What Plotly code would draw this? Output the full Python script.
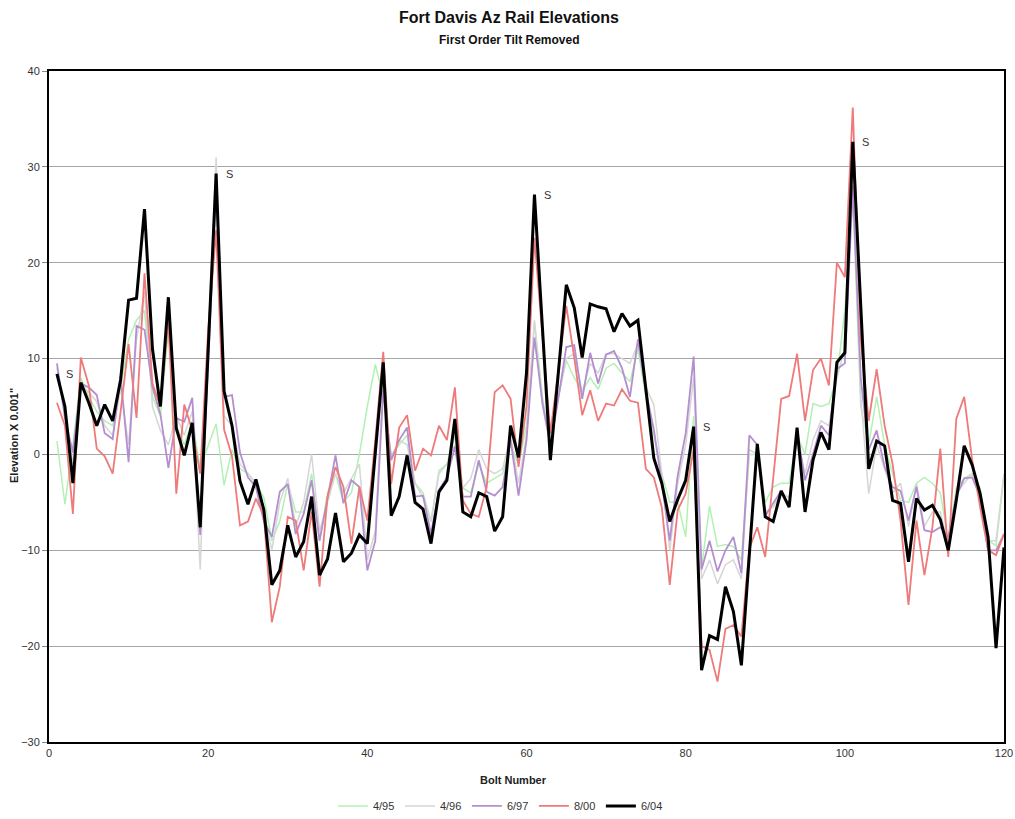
import plotly.graph_objects as go

bolts = list(range(1, 121))

s_0604 = [8.4, 5.0, -3.0, 7.5, 5.4, 3.0, 5.2, 3.5, 7.8, 16.1,
          16.3, 25.6, 11.0, 5.0, 16.4, 2.7, -0.1, 3.3, -7.6, 10.8,
          29.3, 6.6, 3.0, -2.8, -5.2, -2.6, -5.8, -13.6, -12.1, -7.4,
          -10.7, -9.1, -4.4, -12.6, -10.9, -6.1, -11.2, -10.3, -8.4, -9.3,
          0.2, 9.6, -6.4, -4.4, -0.1, -5.0, -5.7, -9.3, -3.9, -2.7,
          3.7, -6.0, -6.5, -4.0, -4.4, -8.0, -6.5, 3.0, -0.3, 8.5,
          27.1, 13.0, -0.6, 8.5, 17.7, 15.3, 10.1, 15.7, 15.4, 15.2,
          12.8, 14.7, 13.4, 14.0, 6.7, -0.4, -3.0, -7.0, -4.7, -2.7,
          2.9, -22.5, -18.9, -19.3, -13.8, -16.4, -22.0, -10.4, 1.1, -6.5,
          -7.0, -3.8, -5.5, 2.8, -6.0, -0.6, 2.3, 0.5, 9.6, 10.6,
          32.6, 15.5, -1.5, 1.4, 0.9, -4.8, -5.1, -11.2, -4.6, -5.8,
          -5.3, -6.8, -10.0, -4.8, 0.9, -1.1, -4.1, -8.6, -20.2, -9.7]

s_0800 = [5.4, 3.0, -6.2, 10.1, 7.2, 0.6, -0.2, -2.0, 4.5, 11.5,
          3.8, 18.9, 7.4, 5.0, 14.0, -4.1, 5.2, 2.5, -2.0, 13.0,
          23.4, 2.6, -0.2, -7.4, -7.0, -4.6, -6.4, -17.5, -13.8, -6.5,
          -6.9, -12.1, -6.0, -13.8, -4.4, -1.3, -3.4, -9.3, -3.4, -6.9,
          1.5, 10.7, -3.1, 2.8, 4.1, -1.7, 0.6, -0.1, 3.0, 1.5,
          7.0, -4.8, -6.2, -6.5, -3.4, 6.5, 7.2, 5.8, -1.3, 5.0,
          22.6, 12.0, 2.2, 8.8, 15.5, 10.1, 4.1, 6.7, 3.5, 5.3,
          5.1, 6.8, 5.6, 5.4, -1.5, -2.4, -5.5, -13.6, -5.8, -4.1,
          0.5, -20.0, -20.4, -23.7, -18.2, -17.8, -19.0, -9.8, -7.6, -10.7,
          -2.5, 5.8, 6.1, 10.5, 3.5, 8.8, 10.0, 7.2, 20.0, 18.5,
          36.2, 12.0, 3.5, 8.9, 3.0, -1.0, -6.9, -15.7, -6.9, -12.6,
          -7.6, 0.6, -10.7, 3.7, 6.0, -0.6, -5.5, -10.0, -10.5, -8.3]

s_0697 = [9.5, 3.8, 0.2, 7.4, 7.0, 6.2, 2.2, 1.6, 8.2, -0.8,
          13.4, 13.0, 7.0, 4.2, -1.4, 3.8, 3.4, 5.9, -8.4, 10.0,
          27.8, 6.0, 6.2, 0.2, -2.4, -3.4, -7.0, -8.6, -3.9, -3.1,
          -8.3, -6.2, -2.7, -9.0, -4.4, -0.1, -5.1, -2.7, -3.4, -12.1,
          -9.0, 6.7, -0.6, 1.5, 2.8, -4.4, -4.3, -8.3, -3.7, -2.4,
          0.8, -4.4, -4.4, -0.6, -3.9, -4.3, -3.4, 1.5, -4.3, 1.5,
          12.2, 5.4, 1.0, 5.8, 11.2, 11.4, 5.8, 10.6, 7.4, 10.4,
          10.8, 9.0, 6.0, 12.0, 6.6, 2.6, -3.0, -9.0, -2.2, 2.2,
          10.2, -12.0, -9.0, -12.2, -10.0, -8.6, -12.4, 2.0, 1.0, -6.4,
          -5.1, -3.8, -5.5, 2.5, -2.7, 0.0, 3.0, 2.0, 8.9, 9.5,
          28.0, 8.0, 0.5, 2.5, -1.3, -3.4, -3.8, -6.9, -3.4, -7.9,
          -8.1, -7.6, -8.6, -4.4, -2.5, -2.4, -4.4, -10.0, -10.0, -8.3]

s_0496 = [9.0, 4.5, -1.0, 7.0, 6.5, 5.5, 3.0, 2.0, 7.0, 1.0,
          12.0, 17.0, 5.0, 2.5, 1.0, 4.0, 2.0, 4.5, -12.0, 12.0,
          31.0, 4.0, 3.0, -1.0, -2.0, -3.0, -6.0, -10.0, -5.0, -2.5,
          -7.5, -5.0, 0.0, -8.0, -5.0, -2.0, -4.0, -2.5, -1.0, -11.0,
          -8.0, 8.0, -0.5, 1.5, 1.0, -3.0, -4.5, -7.0, -2.0, -1.0,
          1.0, -3.5, -2.5, 0.5, -1.5, -2.0, -1.5, 2.0, -3.0, 2.0,
          14.0, 5.0, 1.0, 6.0, 10.0, 10.5, 6.5, 9.5, 8.5, 10.5,
          10.5, 10.0, 9.5, 11.5, 7.0, 5.2, -2.0, -10.0, -3.0, 1.0,
          8.0, -13.0, -11.0, -13.5, -11.5, -11.0, -13.0, 0.5, 0.0, -6.0,
          -5.5, -4.0, -4.5, 1.5, -2.0, 1.5, 3.5, 3.0, 8.0, 11.0,
          30.0, 6.0, -4.1, 1.0, -1.5, -4.0, -3.0, -7.5, -3.0, -7.5,
          -6.0, -6.0, -9.5, -4.0, -3.0, -2.0, -4.0, -9.0, -9.0, -2.0]

s_0495 = [1.4, -5.2, 1.0, 8.0, 6.0, 4.5, 3.5, 3.0, 7.0, 12.0,
          14.0, 15.0, 6.0, 4.0, 13.0, 3.0, 1.0, 3.5, -1.4, 1.0,
          3.2, -3.2, 0.5, -1.5, -2.0, -3.0, -4.5, -9.0, -7.0, -3.0,
          -6.0, -6.0, -2.0, -9.0, -4.0, -2.0, -5.0, -4.0, 0.0, 5.0,
          9.4, 6.0, 0.0, 1.0, 2.0, -3.0, -4.0, -7.0, -1.7, -1.0,
          2.0, -3.5, -4.0, -1.0, -3.0, -2.5, -2.0, 1.0, -1.0, 3.0,
          13.8, 6.0, 1.0, 6.0, 9.8, 8.0, 6.6, 8.0, 6.8, 9.0,
          9.5, 8.5, 7.6, 11.0, 6.0, 2.0, -2.0, -5.0, -5.0, -8.6,
          4.0, -11.8, -5.4, -9.6, -9.4, -9.6, -11.0, 0.0, 0.0, -5.0,
          -3.4, -3.0, -3.0, 2.0, 0.0, 5.3, 5.0, 5.3, 8.0, 15.0,
          27.0, 5.0, 1.0, 6.0, 1.0, -2.0, -4.8, -5.0, -3.0, -2.4,
          -3.0, -4.0, -9.0, -3.5, -2.5, -2.0, -3.5, -9.0, -9.5, -2.2]

series_names = ["4/95", "4/96", "6/97", "8/00", "6/04"]
series_data = [s_0495, s_0496, s_0697, s_0800, s_0604]
series_colors = ["#b3f0b3", "#d6d6d6", "#b48fd0", "#ee7a7a", "#000000"]
series_widths = [1.5, 1.5, 1.8, 1.8, 3]

s_marks = [1, 21, 61, 81, 101]

FONT = "Liberation Sans, Arial, sans-serif"
font_main = dict(family=FONT, size=11, color="#333333")

fig = go.Figure()
for name, data, color, w in zip(series_names, series_data, series_colors, series_widths):
    fig.add_trace(go.Scatter(x=bolts, y=data, mode="lines", name=name,
                             line=dict(color=color, width=w)))

annotations = [
    dict(x=0.482, y=1.079, xref="paper", yref="paper", yanchor="middle",
         text="<b>Fort Davis Az Rail Elevations</b>", showarrow=False,
         font=dict(family=FONT, size=16, color="#111111")),
    dict(x=0.482, y=1.046, xref="paper", yref="paper", yanchor="middle",
         text="<b>First Order Tilt Removed</b>", showarrow=False,
         font=dict(family=FONT, size=12, color="#111111")),
    dict(x=0.486, y=-0.057, xref="paper", yref="paper", yanchor="middle",
         text="<b>Bolt Number</b>", showarrow=False,
         font=dict(family=FONT, size=11, color="#222222")),
    dict(x=-0.036, y=0.457, xref="paper", yref="paper", xanchor="center", yanchor="middle",
         text="<b>Elevation X 0.001\"</b>", showarrow=False, textangle=-90,
         font=dict(family=FONT, size=11, color="#222222")),
] + [
    dict(x=b, y=s_0604[b - 1], text="S", showarrow=False, xshift=13, yshift=0,
         font=dict(family=FONT, size=11, color="#333333"))
    for b in s_marks
]

fig.update_layout(
    width=1015, height=819, autosize=False,
    margin=dict(l=49, r=11, t=71, b=77),
    paper_bgcolor="white", plot_bgcolor="white",
    font=font_main,
    showlegend=True,
    legend=dict(orientation="h", xref="container", yref="container",
                x=0.493, xanchor="center", y=0.016, yanchor="middle",
                font=dict(family=FONT, size=11, color="#333333"),
                entrywidth=22, entrywidthmode="pixels", tracegroupgap=0),
    annotations=annotations,
)

fig.update_xaxes(range=[0, 120], dtick=20, tick0=0, showgrid=False, zeroline=False,
                 showline=True, mirror=True, linecolor="black", linewidth=2,
                 ticks="", tickfont=font_main, automargin=False)
fig.update_yaxes(range=[-30, 40], dtick=10, tick0=0, showgrid=True, gridcolor="#a6a6a6",
                 gridwidth=1, zeroline=False,
                 showline=True, mirror=True, linecolor="black", linewidth=2,
                 ticks="outside", ticklen=5, tickcolor="#888888", tickfont=font_main,
                 automargin=False)

fig.write_html("out.html",
               config={"responsive": False, "displayModeBar": False},
               post_script="document.body.style.margin='0';document.body.style.overflow='hidden';")
